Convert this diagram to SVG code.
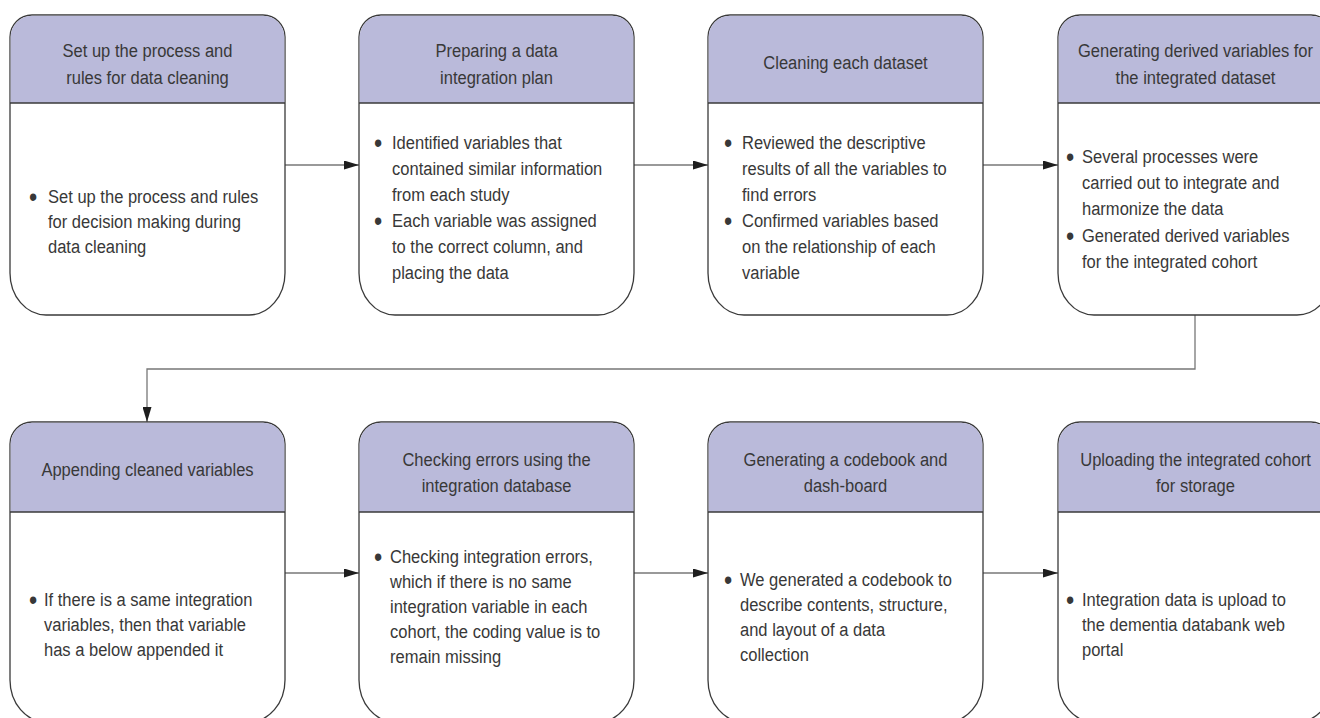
<svg xmlns="http://www.w3.org/2000/svg" width="1320" height="718" viewBox="0 0 1320 718">
<defs>
<style>
.box{fill:#fff;stroke:#3a3a3a;stroke-width:1.3}
.hdr{fill:#babada}
.div{stroke:#3a3a3a;stroke-width:1.3}
.t{font-family:"Liberation Sans",Arial,sans-serif;font-size:19px;fill:#383838}
.h{text-anchor:middle}
.b{text-anchor:middle;font-size:27px}
.con{fill:none;stroke:#777;stroke-width:1.3}
</style>
<marker id="ah" viewBox="0 0 15 9" refX="15" refY="4.5" markerWidth="15" markerHeight="9" markerUnits="userSpaceOnUse" orient="auto">
<path d="M0,0 L15,4.5 L0,9 Z" fill="#1e1e1e"/>
</marker>
<path id="shape" d="M22,0 H253 A22 22 0 0 1 275,22 V258 A36 42 0 0 1 239,300 H36 A36 42 0 0 1 0,258 V22 A22 22 0 0 1 22,0 Z"/>
</defs>
<rect width="1320" height="718" fill="#fff"/>

<g id="connectors">
<line class="con" x1="285" y1="165" x2="359" y2="165" marker-end="url(#ah)"/>
<line class="con" x1="633" y1="165" x2="708" y2="165" marker-end="url(#ah)"/>
<line class="con" x1="983" y1="165" x2="1058" y2="165" marker-end="url(#ah)"/>
<polyline class="con" points="1195,315 1195,369 147,369 147,422" marker-end="url(#ah)"/>
<line class="con" x1="285" y1="573" x2="359" y2="573" marker-end="url(#ah)"/>
<line class="con" x1="633" y1="573" x2="708" y2="573" marker-end="url(#ah)"/>
<line class="con" x1="983" y1="573" x2="1058" y2="573" marker-end="url(#ah)"/>
</g>

<g id="n1" transform="translate(10,15)">
<use href="#shape" class="box"/>
<path class="hdr" d="M0.7,88 V22 A21.3 21.3 0 0 1 22,0.7 H253 A21.3 21.3 0 0 1 274.3,22 V88 Z"/>
<line class="div" x1="0" y1="88" x2="275" y2="88"/>
<g transform="scale(0.87,1)">
<text class="t h" x="158.05" y="42">Set up the process and</text>
<text class="t h" x="158.05" y="69">rules for data cleaning</text>
<text class="t b" x="26.44" y="191">•</text>
<text class="t" x="43.68" y="188">Set up the process and rules</text>
<text class="t" x="43.68" y="213">for decision making during</text>
<text class="t" x="43.68" y="238">data cleaning</text>
</g>
</g>

<g id="n2" transform="translate(359,15)">
<use href="#shape" class="box"/>
<path class="hdr" d="M0.7,88 V22 A21.3 21.3 0 0 1 22,0.7 H253 A21.3 21.3 0 0 1 274.3,22 V88 Z"/>
<line class="div" x1="0" y1="88" x2="275" y2="88"/>
<g transform="scale(0.87,1)">
<text class="t h" x="158.05" y="42">Preparing a data</text>
<text class="t h" x="158.05" y="69">integration plan</text>
<text class="t b" x="21.84" y="137">•</text>
<text class="t" x="37.93" y="134">Identified variables that</text>
<text class="t" x="37.93" y="160">contained similar information</text>
<text class="t" x="37.93" y="186">from each study</text>
<text class="t b" x="21.84" y="215">•</text>
<text class="t" x="37.93" y="212">Each variable was assigned</text>
<text class="t" x="37.93" y="238">to the correct column, and</text>
<text class="t" x="37.93" y="264">placing the data</text>
</g>
</g>

<g id="n3" transform="translate(708,15)">
<use href="#shape" class="box"/>
<path class="hdr" d="M0.7,88 V22 A21.3 21.3 0 0 1 22,0.7 H253 A21.3 21.3 0 0 1 274.3,22 V88 Z"/>
<line class="div" x1="0" y1="88" x2="275" y2="88"/>
<g transform="scale(0.87,1)">
<text class="t h" x="158.05" y="54">Cleaning each dataset</text>
<text class="t b" x="22.99" y="137">•</text>
<text class="t" x="39.08" y="134">Reviewed the descriptive</text>
<text class="t" x="39.08" y="160">results of all the variables to</text>
<text class="t" x="39.08" y="186">find errors</text>
<text class="t b" x="22.99" y="215">•</text>
<text class="t" x="39.08" y="212">Confirmed variables based</text>
<text class="t" x="39.08" y="238">on the relationship of each</text>
<text class="t" x="39.08" y="264">variable</text>
</g>
</g>

<g id="n4" transform="translate(1058,15)">
<use href="#shape" class="box"/>
<path class="hdr" d="M0.7,88 V22 A21.3 21.3 0 0 1 22,0.7 H253 A21.3 21.3 0 0 1 274.3,22 V88 Z"/>
<line class="div" x1="0" y1="88" x2="275" y2="88"/>
<g transform="scale(0.87,1)">
<text class="t h" x="158.05" y="42">Generating derived variables for</text>
<text class="t h" x="158.05" y="69">the integrated dataset</text>
<text class="t b" x="13.79" y="151">•</text>
<text class="t" x="27.59" y="148">Several processes were</text>
<text class="t" x="27.59" y="174">carried out to integrate and</text>
<text class="t" x="27.59" y="200">harmonize the data</text>
<text class="t b" x="13.79" y="230">•</text>
<text class="t" x="27.59" y="227">Generated derived variables</text>
<text class="t" x="27.59" y="253">for the integrated cohort</text>
</g>
</g>

<g id="n5" transform="translate(10,422)">
<use href="#shape" class="box"/>
<path class="hdr" d="M0.7,90 V22 A21.3 21.3 0 0 1 22,0.7 H253 A21.3 21.3 0 0 1 274.3,22 V90 Z"/>
<line class="div" x1="0" y1="90" x2="275" y2="90"/>
<g transform="scale(0.87,1)">
<text class="t h" x="158.05" y="54">Appending cleaned variables</text>
<text class="t b" x="26.44" y="187">•</text>
<text class="t" x="39.08" y="184">If there is a same integration</text>
<text class="t" x="39.08" y="209">variables, then that variable</text>
<text class="t" x="39.08" y="234">has a below appended it</text>
</g>
</g>

<g id="n6" transform="translate(359,422)">
<use href="#shape" class="box"/>
<path class="hdr" d="M0.7,90 V22 A21.3 21.3 0 0 1 22,0.7 H253 A21.3 21.3 0 0 1 274.3,22 V90 Z"/>
<line class="div" x1="0" y1="90" x2="275" y2="90"/>
<g transform="scale(0.87,1)">
<text class="t h" x="158.05" y="44">Checking errors using the</text>
<text class="t h" x="158.05" y="70">integration database</text>
<text class="t b" x="21.84" y="144">•</text>
<text class="t" x="35.63" y="141">Checking integration errors,</text>
<text class="t" x="35.63" y="166">which if there is no same</text>
<text class="t" x="35.63" y="191">integration variable in each</text>
<text class="t" x="35.63" y="216">cohort, the coding value is to</text>
<text class="t" x="35.63" y="241">remain missing</text>
</g>
</g>

<g id="n7" transform="translate(708,422)">
<use href="#shape" class="box"/>
<path class="hdr" d="M0.7,90 V22 A21.3 21.3 0 0 1 22,0.7 H253 A21.3 21.3 0 0 1 274.3,22 V90 Z"/>
<line class="div" x1="0" y1="90" x2="275" y2="90"/>
<g transform="scale(0.87,1)">
<text class="t h" x="158.05" y="44">Generating a codebook and</text>
<text class="t h" x="158.05" y="70">dash-board</text>
<text class="t b" x="22.99" y="167">•</text>
<text class="t" x="36.78" y="164">We generated a codebook to</text>
<text class="t" x="36.78" y="189">describe contents, structure,</text>
<text class="t" x="36.78" y="214">and layout of a data</text>
<text class="t" x="36.78" y="239">collection</text>
</g>
</g>

<g id="n8" transform="translate(1058,422)">
<use href="#shape" class="box"/>
<path class="hdr" d="M0.7,90 V22 A21.3 21.3 0 0 1 22,0.7 H253 A21.3 21.3 0 0 1 274.3,22 V90 Z"/>
<line class="div" x1="0" y1="90" x2="275" y2="90"/>
<g transform="scale(0.87,1)">
<text class="t h" x="158.05" y="44">Uploading the integrated cohort</text>
<text class="t h" x="158.05" y="70">for storage</text>
<text class="t b" x="13.79" y="187">•</text>
<text class="t" x="27.59" y="184">Integration data is upload to</text>
<text class="t" x="27.59" y="209">the dementia databank web</text>
<text class="t" x="27.59" y="234">portal</text>
</g>
</g>
</svg>
